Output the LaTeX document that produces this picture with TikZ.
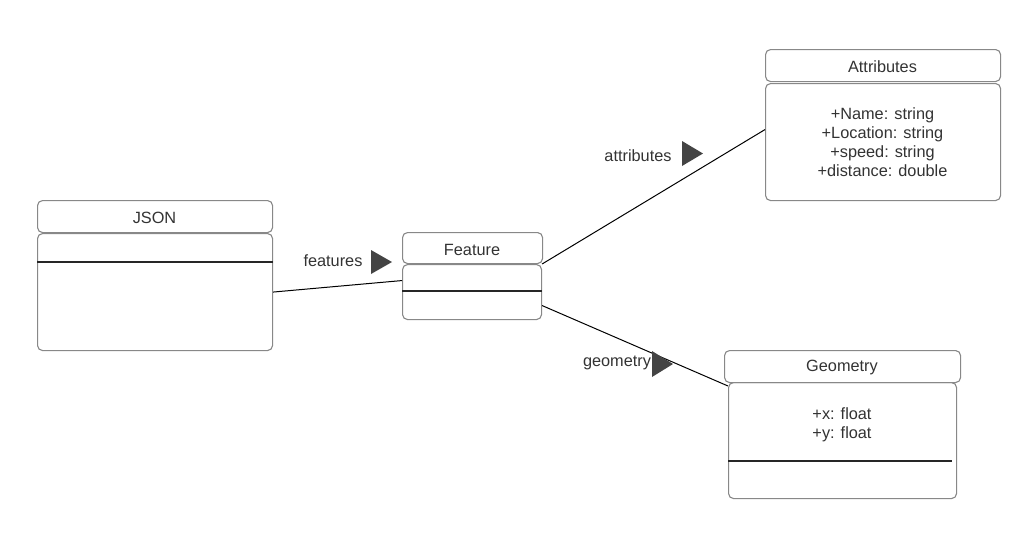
\documentclass[tikz,border=0pt]{standalone}
\usepackage{fontspec}
\setmainfont{Liberation Sans}
\usetikzlibrary{calc}
\definecolor{txt}{HTML}{333333}
\definecolor{bord}{HTML}{888888}
\definecolor{tri}{HTML}{444444}
\begin{document}
\begin{tikzpicture}[x=1pt,y=-1pt,
  every node/.style={font=\fontsize{16.3}{19}\selectfont, text=txt},
  box/.style={draw=bord, line width=1.1pt, rounded corners=5pt, fill=white, inner sep=0pt, anchor=north west},
  divider/.style={draw=black!85, line width=1.1pt},
  conn/.style={draw=black, line width=1pt},
  arrowtri/.style={fill=tri, draw=none},
  lbl/.style={inner sep=0pt}
]
\useasboundingbox (0,0) rectangle (1035,558);

% JSON
\node[box, minimum width=235pt, minimum height=32pt] (jsonh) at (37,200) {};
\node[lbl] (jsont) at (154.5,217.5) {JSON};
\node[box, minimum width=235pt, minimum height=117pt] (jsonb) at (37,233) {};
\draw[divider] (jsonb.west |- 0,262) -- (jsonb.east |- 0,262);

% Feature
\node[box, minimum width=140pt, minimum height=31pt] (feath) at (402,232) {};
\node[lbl] (featt) at (472,249.5) {Feature};
\node[box, minimum width=139pt, minimum height=55pt] (featb) at (402,264) {};
\draw[divider] (featb.west |- 0,291) -- (featb.east |- 0,291);

% Attributes
\node[box, minimum width=235pt, minimum height=32pt] (attrh) at (765,49) {};
\node[lbl] (attrt) at (882.5,66.5) {Attributes};
\node[box, minimum width=235pt, minimum height=117pt] (attrb) at (765,83) {};
\node[lbl, align=center] (attrl) at (882.5,142) {+Name: string\\+Location: string\\+speed: string\\+distance: double};

% Geometry
\node[box, minimum width=228pt, minimum height=116pt] (geob) at (728,382) {};
\node[box, minimum width=236pt, minimum height=32pt] (geoh) at (724,350) {};
\node[lbl] (geot) at (842,367.5) {Geometry};
\node[lbl, align=center] (geol) at (842,425) {+x: float\\+y: float};
\draw[divider] (728,461) -- (952,461);

% connectors
\draw[conn] (jsonb.east) -- ([yshift=11.5pt]featb.west);
\draw[conn] (featb.north east) -- ([yshift=12.5pt]attrb.west);
\draw[conn] ([yshift=-13.5pt]featb.east) -- ([yshift=-4pt]geob.north west);

% labels
\node[lbl] (lfeat) at (333,260.5) {features};
\fill[arrowtri] (371,250) -- (392,262) -- (371,274) -- cycle;
\node[lbl] (lattr) at (638,155.5) {attributes};
\fill[arrowtri] (682,141) -- (703,153.5) -- (682,166) -- cycle;
\node[lbl] (lgeo) at (617,362.5) {geometry};
\fill[arrowtri] (652,351) -- (673,364) -- (652,377) -- cycle;
\end{tikzpicture}
\end{document}
